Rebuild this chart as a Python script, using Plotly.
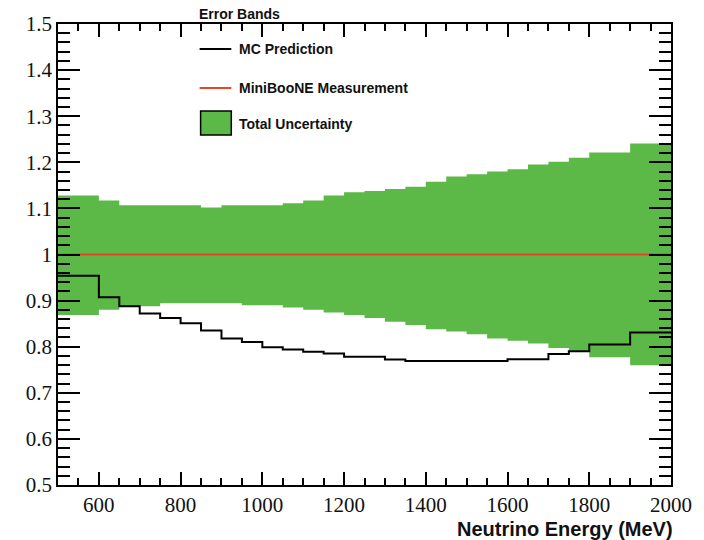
import plotly.graph_objects as go

# ---- data (50 MeV bins from 500 to 2000 MeV) ----
bin_edges = [500 + 50 * i for i in range(31)]

band_upper = [1.128, 1.128, 1.117, 1.107, 1.107, 1.107, 1.107, 1.102, 1.107, 1.107,
              1.107, 1.111, 1.117, 1.128, 1.135, 1.138, 1.142, 1.147, 1.158, 1.169,
              1.174, 1.180, 1.185, 1.195, 1.201, 1.210, 1.221, 1.221, 1.241, 1.241]
band_lower = [0.869, 0.869, 0.880, 0.888, 0.888, 0.894, 0.894, 0.894, 0.894, 0.890,
              0.890, 0.885, 0.880, 0.874, 0.869, 0.862, 0.854, 0.847, 0.838, 0.833,
              0.827, 0.818, 0.813, 0.807, 0.797, 0.791, 0.777, 0.777, 0.760, 0.760]
mc_prediction = [0.954, 0.954, 0.907, 0.888, 0.872, 0.862, 0.851, 0.835, 0.818, 0.810,
                 0.799, 0.794, 0.789, 0.785, 0.778, 0.778, 0.772, 0.769, 0.769, 0.769,
                 0.769, 0.769, 0.773, 0.773, 0.784, 0.790, 0.805, 0.805, 0.831, 0.831]
measurement = [1.0, 1.0]
measurement_x = [500, 2000]

x_ticks = [600, 800, 1000, 1200, 1400, 1600, 1800, 2000]
y_ticks = [0.5, 0.6, 0.7, 0.8, 0.9, 1.0, 1.1, 1.2, 1.3, 1.4, 1.5]

GREEN = "#5cb947"
RED = "#e8442a"

# step polygon for the uncertainty band
def step_path(edges, vals):
    xs, ys = [], []
    for i, v in enumerate(vals):
        xs += [edges[i], edges[i + 1]]
        ys += [v, v]
    return xs, ys

ux, uy = step_path(bin_edges, band_upper)
lx, ly = step_path(bin_edges, band_lower)
poly_x = ux + lx[::-1]
poly_y = uy + ly[::-1]

fig = go.Figure()
fig.add_trace(go.Scatter(x=poly_x, y=poly_y, fill="toself", fillcolor=GREEN,
                         line=dict(width=0, color=GREEN), mode="lines",
                         hoverinfo="skip", showlegend=False))
fig.add_trace(go.Scatter(x=measurement_x, y=measurement, mode="lines",
                         line=dict(color=RED, width=2), showlegend=False))
fig.add_trace(go.Scatter(x=bin_edges, y=mc_prediction + [mc_prediction[-1]],
                         mode="lines", line=dict(color="black", width=2, shape="hv"),
                         showlegend=False))

L, R, T, B = 58, 27, 24, 55
W, H = 704, 540
pw, ph = W - L - R, H - T - B

def px(x):
    return (x - L) / pw

def py(y):
    return (H - B - y) / ph

# manual legend
shapes = [
    dict(type="line", xref="paper", yref="paper", x0=px(201), x1=px(233), y0=py(49), y1=py(49),
         line=dict(color="black", width=2)),
    dict(type="line", xref="paper", yref="paper", x0=px(201), x1=px(233), y0=py(88), y1=py(88),
         line=dict(color=RED, width=2)),
    dict(type="rect", xref="paper", yref="paper", x0=px(202), x1=px(233), y0=py(135), y1=py(111),
         fillcolor=GREEN, line=dict(color="black", width=1.5)),
]
lfont = dict(family="Liberation Sans, Arial", size=14, color="#111")
annotations = [
    dict(text="<b>Error Bands</b>", xref="paper", yref="paper", x=px(198), y=py(14),
         xanchor="left", yanchor="middle", showarrow=False,
         font=dict(family="Liberation Sans, Arial", size=14, color="#111")),
    dict(text="<b>MC Prediction</b>", xref="paper", yref="paper", x=px(239), y=py(49),
         xanchor="left", yanchor="middle", showarrow=False, font=lfont),
    dict(text="<b>MiniBooNE Measurement</b>", xref="paper", yref="paper", x=px(239), y=py(88),
         xanchor="left", yanchor="middle", showarrow=False, font=lfont),
    dict(text="<b>Total Uncertainty</b>", xref="paper", yref="paper", x=px(239), y=py(124),
         xanchor="left", yanchor="middle", showarrow=False, font=lfont),
    dict(text="<b>Neutrino Energy (MeV)</b>", xref="paper", yref="paper", x=1.0, y=py(529),
         xanchor="right", yanchor="middle", showarrow=False, xshift=4,
         font=dict(family="Liberation Sans, Arial", size=20, color="#111")),
]

tickfont = dict(family="Liberation Serif, Times New Roman", size=21, color="#111")
fig.update_layout(
    width=W, height=H,
    margin=dict(l=L, r=R, t=T, b=B),
    paper_bgcolor="white", plot_bgcolor="white",
    showlegend=False,
    shapes=shapes, annotations=annotations,
    xaxis=dict(range=[500, 2000], tickvals=x_ticks, ticktext=[str(v) for v in x_ticks],
               ticks="inside", ticklen=13, tickwidth=1.5, tickcolor="black",
               minor=dict(ticks="inside", ticklen=7, dtick=50, tick0=500, tickwidth=1.5,
                          tickcolor="black"),
               showline=True, linecolor="black", linewidth=1.5, mirror="allticks",
               showgrid=False, zeroline=False, tickfont=tickfont),
    yaxis=dict(range=[0.5, 1.5], tickvals=y_ticks,
               ticktext=[("%g" % v) for v in y_ticks],
               ticks="inside", ticklen=22, tickwidth=1.5, tickcolor="black",
               minor=dict(ticks="inside", ticklen=12, dtick=0.02, tick0=0.5, tickwidth=1.5,
                          tickcolor="black"),
               showline=True, linecolor="black", linewidth=1.5, mirror="allticks",
               showgrid=False, zeroline=False, tickfont=tickfont),
)

fig.write_html("out.html")
